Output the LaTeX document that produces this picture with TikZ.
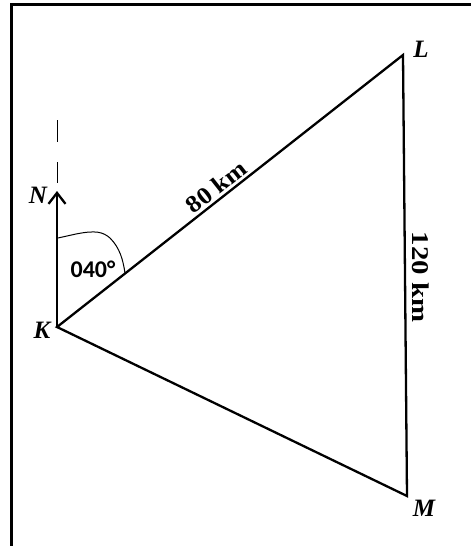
\documentclass[tikz,border=0pt]{standalone}
\usepackage{fontspec}
\setmainfont{Liberation Serif}
\newfontfamily\calib{Carlito}
\usetikzlibrary{arrows.meta}
\begin{document}
\begin{tikzpicture}[x=1pt,y=-1pt,
  edge/.style={line width=2.3pt, line join=miter},
  vlabel/.style={font=\fontsize{25}{25}\selectfont\bfseries\itshape, inner sep=0pt},
  dist/.style={font=\fontsize{24}{24}\selectfont\bfseries, inner sep=0pt},
  angtext/.style={font=\calib\fontsize{24}{24}\selectfont\bfseries, inner sep=0pt}]
\useasboundingbox (0,0) rectangle (471,546);
\fill[white] (0,0) rectangle (471,546);
\draw[line width=3pt] (11,548) -- (11,4) -- (473,4);
% points
\coordinate (K) at (57,327);
\coordinate (L) at (403,55);
\coordinate (M) at (407,496);
\coordinate (Ntip) at (57,191);
\coordinate (D1) at (57,120);
\coordinate (D2) at (57,183);
\coordinate (A1) at (58,238);
\coordinate (A2) at (125,273);
% triangle
\draw[edge] (K) -- (L) -- (M) -- cycle;
% north arrow
\draw[edge,-{Straight Barb[length=11pt,width=17pt,line width=2.3pt]}] (K) -- (Ntip);
\draw[line width=1pt, dash pattern=on 22pt off 20pt] (D1) -- (D2);
% angle arc
\draw[line width=1pt] (A1) -- (76,234) .. controls (96,230) and (103,232) .. (110,238)
   .. controls (120,248) and (123,260) .. (A2);
% labels
\node[vlabel] (lK) at (42,330) {K};
\node[vlabel] (lL) at (421,49) {L};
\node[vlabel] (lM) at (424,508) {M};
\node[vlabel] (lN) at (38,195) {N};
\node[angtext] (ang) at (93,269) {040°};
\node[dist, rotate=38.2] (d80) at (216,187) {\scalebox{1.1}[1]{80 km}};
\node[dist, rotate=-90] (d120) at (421,277) {\scalebox{1.2}[1]{120 km}};
\end{tikzpicture}
\end{document}
